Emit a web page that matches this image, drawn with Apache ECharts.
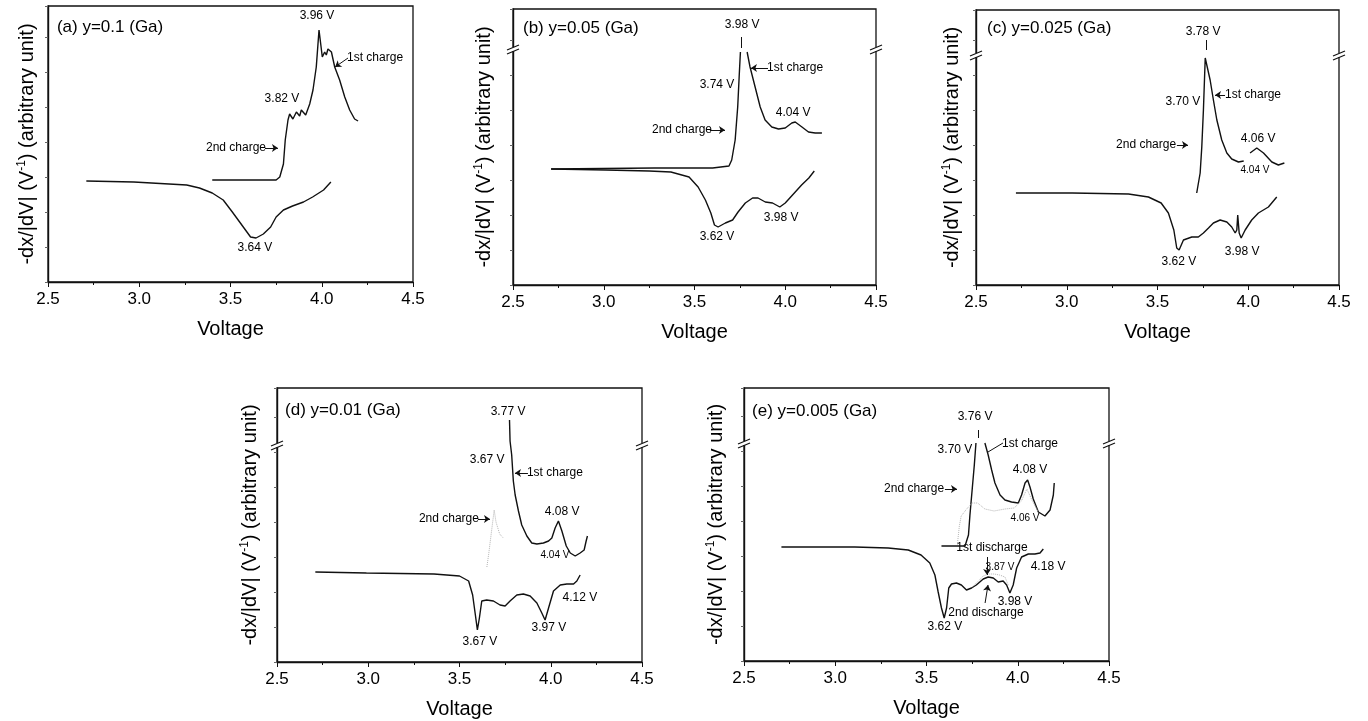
<!DOCTYPE html>
<html>
<head>
<meta charset="utf-8">
<script src="https://cdn.jsdelivr.net/npm/echarts@6/dist/echarts.min.js"></script>
<style>
html,body{margin:0;padding:0;background:#fff;}
#main{width:1368px;height:721px;}
</style>
</head>
<body>
<div id="main"></div>
<script>
/* dx/dV 曲线 (a)~(e) */
var xMin = 2.5, xMax = 4.5, xStep = 0.5;

// (a) y=0.1
var aDis = [[2.71,101],[2.97,100],[3.26,97],[3.33,94],[3.40,89],[3.46,82],[3.51,70],[3.55,60],[3.59,50],[3.61,45],[3.64,44],[3.68,48],[3.72,55],[3.75,65],[3.79,72],[3.84,76],[3.90,80],[3.95,85],[4.01,92],[4.05,100]];
var aChg = [[3.40,102],[3.75,102],[3.77,105],[3.79,118],[3.80,142],[3.815,162],[3.824,168],[3.842,163],[3.861,170],[3.879,166],[3.888,172],[3.912,167],[3.934,178],[3.952,192],[3.970,215],[3.985,252],[3.992,252],[4.003,225],[4.016,230],[4.025,227],[4.034,233],[4.053,230],[4.071,215],[4.098,202],[4.126,185],[4.153,172],[4.180,163],[4.199,161]];
var aNotes = [[3.974,266,'3.96 V'],[4.292,224,'1st charge'],[3.782,183,'3.82 V'],[3.530,134,'2nd charge'],[3.634,34,'3.64 V']];
var aArrows = [[[4.144,224],[4.073,215]],[[3.689,134],[3.760,134]]];

// (b) y=0.05
var bDis = [[2.71,116],[3.01,115],[3.25,114],[3.37,113],[3.47,108],[3.52,98],[3.56,85],[3.59,72],[3.61,60],[3.63,58],[3.67,62],[3.71,65],[3.74,73],[3.78,82],[3.82,87],[3.85,87],[3.89,83],[3.93,82],[3.97,78],[4.00,82],[4.04,90],[4.09,100],[4.13,107],[4.16,114]];
var bChg = [[2.71,116],[3.28,117],[3.60,117],[3.69,119],[3.705,125],[3.724,145],[3.738,178],[3.746,208],[3.753,233],[3.77,'-'],[3.790,233],[3.806,218],[3.834,198],[3.862,178],[3.889,165],[3.926,158],[3.963,156],[4.0,157],[4.036,162],[4.055,163],[4.092,158],[4.128,153],[4.165,152],[4.202,152]];
var bNotes = [[3.762,260,'3.98 V'],[3.624,200,'3.74 V'],[4.054,217,'1st charge'],[3.431,155,'2nd charge'],[4.043,172,'4.04 V'],[3.624,48,'3.62 V'],[3.977,67,'3.98 V']];
var bArrows = [[[3.905,217],[3.811,217]],[[3.585,155],[3.668,155]],[[3.755,248],[3.755,237],0]];

// (c) y=0.025
var cDis = [[2.72,92],[3.03,92],[3.34,91],[3.45,88],[3.52,82],[3.56,72],[3.59,55],[3.606,37],[3.619,35],[3.643,45],[3.689,48],[3.725,48],[3.753,52],[3.781,57],[3.808,62],[3.845,65],[3.882,63],[3.909,58],[3.928,52],[3.937,55],[3.942,70],[3.950,52],[3.961,47],[3.983,55],[4.019,65],[4.056,72],[4.111,78],[4.157,88]];
var cChg = [[3.716,92],[3.735,112],[3.744,138],[3.753,175],[3.763,227],[3.772,228],[3.790,205],[3.808,185],[3.827,165],[3.854,145],[3.882,132],[3.909,126],[3.946,123],[3.975,124],[3.99,'-'],[4.010,132],[4.047,137],[4.084,132],[4.130,123],[4.166,120],[4.199,122]];
var cNotes = [[3.751,253,'3.78 V'],[3.640,183,'3.70 V'],[4.026,190,'1st charge'],[3.437,140,'2nd charge'],[4.054,146,'4.06 V'],[4.037,115,'4.04 V',10],[3.618,23,'3.62 V'],[3.966,33,'3.98 V']];
var cArrows = [[[3.872,190],[3.817,190]],[[3.607,140],[3.668,140]],[[3.767,245],[3.767,235],0]];

// (d) y=0.01
var dDis = [[2.71,90],[2.99,89],[3.36,88],[3.50,86],[3.55,81],[3.572,67],[3.587,47],[3.598,32],[3.609,44],[3.622,61],[3.649,62],[3.686,61],[3.722,57],[3.750,56],[3.777,61],[3.814,67],[3.850,68],[3.887,66],[3.924,59],[3.951,49],[3.969,42],[3.988,54],[4.015,71],[4.052,77],[4.088,78],[4.125,78],[4.143,81],[4.161,87]];
var dChg = [[3.774,242],[3.777,221],[3.786,207],[3.795,181],[3.805,167],[3.823,151],[3.841,137],[3.869,126],[3.896,119],[3.924,118],[3.960,119],[3.988,121],[4.006,124],[4.024,134],[4.042,141],[4.061,131],[4.085,116],[4.107,109],[4.134,106],[4.161,109],[4.183,112],[4.194,121],[4.201,126]];
var dChg2 = [[3.65,95],[3.66,108],[3.675,130],[3.69,152],[3.70,140],[3.72,128],[3.74,124]];
var dNotes = [[3.766,250,'3.77 V'],[3.651,202,'3.67 V'],[4.023,189,'1st charge'],[3.442,143,'2nd charge'],[4.062,150,'4.08 V'],[4.023,107,'4.04 V',10],[4.160,64,'4.12 V'],[3.990,34,'3.97 V'],[3.612,20,'3.67 V']];
var dArrows = [[[3.875,189],[3.804,189]],[[3.601,143],[3.667,143]]];

// (e) y=0.005
var eDis = [[2.705,114],[3.107,114],[3.29,113],[3.40,111],[3.47,106],[3.518,98],[3.546,86],[3.564,69],[3.582,53],[3.597,43],[3.610,53],[3.622,73],[3.637,77],[3.664,78],[3.691,76],[3.719,71],[3.747,73],[3.773,76],[3.811,82],[3.838,84],[3.866,83],[3.893,79],[3.920,80],[3.939,76],[3.957,68],[3.975,76],[3.994,93],[4.021,104],[4.058,107],[4.094,107],[4.122,108],[4.140,112]];
var eDis2 = [[3.75,74],[3.78,79],[3.81,85],[3.84,87],[3.87,87],[3.90,86],[3.93,84],[3.95,75]];
var eChg = [[3.582,115],[3.711,115],[3.730,126],[3.738,146],[3.751,173],[3.762,196],[3.771,218],[3.79,'-'],[3.820,218],[3.838,206],[3.857,191],[3.875,178],[3.903,166],[3.930,161],[3.966,159],[4.003,158],[4.021,166],[4.040,178],[4.054,181],[4.067,174],[4.085,162],[4.113,149],[4.149,145],[4.177,151],[4.195,166],[4.200,178]];
var eChg2 = [[3.67,118],[3.68,135],[3.69,145],[3.72,152],[3.75,158],[3.78,158],[3.82,152],[3.87,150],[3.93,152],[3.98,153],[4.02,160],[4.05,172],[4.08,160],[4.11,150]];
var eNotes = [[3.766,244,'3.76 V'],[3.656,211,'3.70 V'],[4.067,217,'1st charge'],[4.067,191,'4.08 V'],[3.432,172,'2nd charge'],[4.040,143,'4.06 V',10],[3.859,113,'1st discharge'],[3.903,94,'3.87 V',10],[4.166,94,'4.18 V'],[3.985,59,'3.98 V'],[3.826,48,'2nd discharge'],[3.601,34,'3.62 V']];
var eArrows = [[[3.919,218],[3.837,209],0],[[3.601,172],[3.667,172]],[[3.832,104],[3.832,86]],[[3.821,58],[3.837,76]],[[3.782,231],[3.782,223],0]];

var titles = ['(a) y=0.1 (Ga)','(b) y=0.05 (Ga)','(c) y=0.025 (Ga)','(d) y=0.01 (Ga)','(e) y=0.005 (Ga)'];
var titlePos = [[2.549,255],[2.555,257],[2.561,257],[2.544,252],[2.544,250]];
var breakY = [null,236,230,217,218];

var FONT = '"Liberation Sans", Arial, Helvetica, sans-serif';
var INK = '#000';

// 每个子图的位置
var panels = [
    {box:{left:48, top:6, width:365, height:276}, gap:10, dis:aDis, chg:aChg, gray:[], notes:aNotes, arrows:aArrows},
    {box:{left:513, top:9, width:363, height:276}, gap:18, dis:bDis, chg:bChg, gray:[], notes:bNotes, arrows:bArrows},
    {box:{left:976, top:10, width:363, height:275}, gap:13, dis:cDis, chg:cChg, gray:[], notes:cNotes, arrows:cArrows},
    {box:{left:277, top:388, width:365, height:274}, gap:16, dis:dDis, chg:dChg, gray:[dChg2], notes:dNotes, arrows:dArrows},
    {box:{left:744, top:388, width:365, height:273}, gap:17, dis:eDis, chg:eChg, gray:[eDis2, eChg2], notes:eNotes, arrows:eArrows}
];

var grids = [], xAxes = [], yAxes = [], series = [];

panels.forEach(function (p, i) {
    grids.push({
        left: p.box.left, top: p.box.top, width: p.box.width, height: p.box.height,
        show: true, borderColor: '#111', borderWidth: 1.3, backgroundColor: 'transparent'
    });
    xAxes.push({
        type: 'value', gridIndex: i, min: xMin, max: xMax, interval: xStep,
        name: 'Voltage', nameLocation: 'middle', nameGap: 37,
        nameTextStyle: {fontSize: 20, color: INK, fontFamily: FONT},
        axisLine: {lineStyle: {color: '#111', width: 1.4}},
        axisTick: {inside: false, length: 5, lineStyle: {color: '#111'}},
        minorTick: {show: true, splitNumber: 2, length: 3, lineStyle: {color: '#111'}},
        splitLine: {show: false},
        axisLabel: {fontSize: 17, color: INK, fontFamily: FONT, margin: 9,
            formatter: function (v) { return v.toFixed(1); }}
    });
    yAxes.push({
        type: 'value', gridIndex: i, min: 0, max: p.box.height, interval: 35,
        name: '-dx/|dV| (V{s|-1}) (arbitrary unit)', nameLocation: 'middle', nameGap: p.gap,
        nameTextStyle: {fontSize: 20, color: INK, fontFamily: FONT,
            rich: {s: {fontSize: 12, color: INK, fontFamily: FONT, padding: [0, 0, 10, 0]}}},
        axisLine: {lineStyle: {color: '#111', width: 1.4}},
        axisTick: {show: true, length: 3, lineStyle: {color: '#666'}},
        axisLabel: {show: false},
        splitLine: {show: false}
    });

    var lineBase = {
        type: 'line', xAxisIndex: i, yAxisIndex: i, showSymbol: false, symbol: 'none',
        connectNulls: false, animation: false, silent: true
    };
    series.push(Object.assign({}, lineBase, {data: p.dis, lineStyle: {color: '#111', width: 1.4}}));
    series.push(Object.assign({}, lineBase, {data: p.chg, lineStyle: {color: '#111', width: 1.4}}));
    p.gray.forEach(function (g) {
        series.push(Object.assign({}, lineBase, {data: g, lineStyle: {color: '#b5b5b5', width: 1, type: 'dotted'}}));
    });

    // 标注文字 + 箭头
    var notes = p.notes.map(function (n) {
        return {value: [n[0], n[1]], name: n[2], label: {fontSize: n[3] || 12}};
    });
    notes.push({value: titlePos[i], name: titles[i],
        label: {fontSize: 17, position: 'right', distance: 0}});
    var arrows = p.arrows.map(function (a) {
        return [
            {coord: a[0], symbol: 'none'},
            {coord: a[1], symbol: a[2] === 0 ? 'none' : 'arrow', symbolSize: 6}
        ];
    });
    series.push({
        type: 'scatter', xAxisIndex: i, yAxisIndex: i, symbolSize: 0, silent: true, animation: false,
        itemStyle: {color: '#000', opacity: 1},
        label: {show: true, position: 'inside', formatter: '{b}', color: INK, fontFamily: FONT, opacity: 1},
        data: notes,
        markLine: {
            silent: true, animation: false, label: {show: false},
            lineStyle: {color: '#111', width: 1, type: 'solid'},
            data: arrows
        }
    });
});

var chart = echarts.init(document.getElementById('main'), null, {renderer: 'canvas'});
chart.setOption({
    backgroundColor: '#fff',
    animation: false,
    grid: grids,
    xAxis: xAxes,
    yAxis: yAxes,
    series: series
});

// 坐标轴断裂符号 //
var gfx = [];
breakY.forEach(function (by, i) {
    if (by === null) return;
    [xMin, xMax].forEach(function (bx) {
        var pt = chart.convertToPixel({gridIndex: i}, [bx, by]);
        gfx.push({type: 'rect', shape: {x: pt[0] - 3, y: pt[1] - 2, width: 6, height: 4},
            style: {fill: '#fff'}, z: 100});
        gfx.push({type: 'line', shape: {x1: pt[0] - 6, y1: pt[1] + 1, x2: pt[0] + 6, y2: pt[1] - 4},
            style: {stroke: '#111', lineWidth: 1.2}, z: 101});
        gfx.push({type: 'line', shape: {x1: pt[0] - 6, y1: pt[1] + 5, x2: pt[0] + 6, y2: pt[1]},
            style: {stroke: '#111', lineWidth: 1.2}, z: 101});
    });
});
chart.setOption({graphic: gfx});
</script>
</body>
</html>
